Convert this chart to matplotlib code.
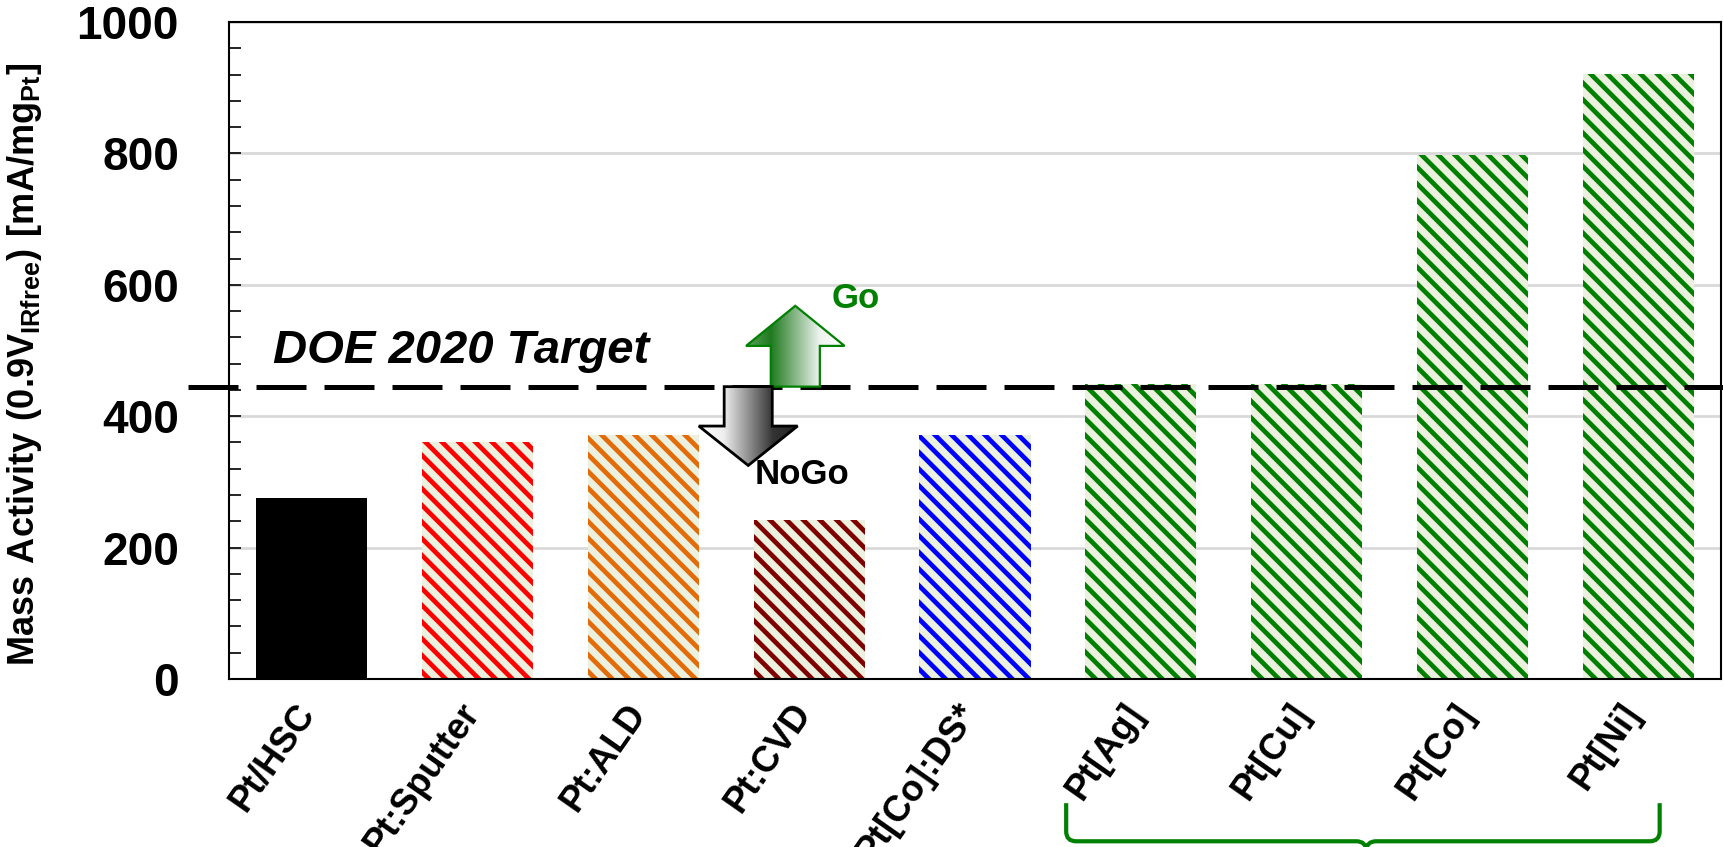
import numpy as np
import matplotlib
matplotlib.use('Agg')
import matplotlib.pyplot as plt
from matplotlib.patches import Polygon, PathPatch
from matplotlib.path import Path
from matplotlib.colors import LinearSegmentedColormap
from matplotlib.transforms import ScaledTranslation
from matplotlib.ticker import MultipleLocator

catalysts = ['Pt/HSC', 'Pt:Sputter', 'Pt:ALD', 'Pt:CVD', 'Pt[Co]:DS*',
             'Pt[Ag]', 'Pt[Cu]', 'Pt[Co]', 'Pt[Ni]']
mass_activity = [276, 361, 371, 242, 371, 449, 449, 797, 921]
bar_colors = ['#000000', '#ff0000', '#e36c09', '#7f0000', '#0000ff',
              '#008000', '#008000', '#008000', '#008000']
doe_target = 445

plt.rcParams['font.family'] = ['Liberation Sans', 'DejaVu Sans']
plt.rcParams['font.weight'] = 'bold'
plt.rcParams['hatch.linewidth'] = 3.4
plt.rcParams['mathtext.fontset'] = 'custom'
plt.rcParams['mathtext.rm'] = 'Liberation Sans:bold'
plt.rcParams['mathtext.bf'] = 'Liberation Sans:bold'

fig = plt.figure(figsize=(17.24, 8.47), dpi=100)
ax = fig.add_axes([229 / 1724, 1 - 679 / 847, 1492 / 1724, 657 / 847])

x = np.arange(len(catalysts))
for i, (v, c) in enumerate(zip(mass_activity, bar_colors)):
    if i == 0:
        ax.bar(i, v, width=0.67, color=c, zorder=2)
    else:
        ax.bar(i, v, width=0.67, facecolor='#ebf1de', edgecolor=c,
               hatch='\\\\', linewidth=0, zorder=2)

# DOE target line
ax.plot([-0.75, 8.6], [doe_target, doe_target], color='black', lw=3.6,
        dashes=(10, 3.6), clip_on=False, zorder=3)
ax.text(-0.235, 481, 'DOE 2020 Target', style='italic', fontsize=34,
        ha='left', va='baseline')


def gradient_arrow(pts, stops, edge, lw):
    poly = Polygon(pts, closed=True, facecolor='none', edgecolor=edge,
                   lw=lw, zorder=6, clip_on=False)
    ax.add_patch(poly)
    xs, ys = zip(*pts)
    cmap = LinearSegmentedColormap.from_list('g', stops)
    grad = np.linspace(0, 1, 256).reshape(1, -1)
    im = ax.imshow(grad, cmap=cmap, extent=(min(xs), max(xs), min(ys), max(ys)),
                   aspect='auto', zorder=5, interpolation='bilinear')
    im.set_clip_path(poly)


# Go arrow (up)
cx, sw, hw = 2.916, 0.148, 0.297
gradient_arrow([(cx - sw, doe_target), (cx - sw, 507), (cx - hw, 507), (cx, 568),
                (cx + hw, 507), (cx + sw, 507), (cx + sw, doe_target)],
               [(0, '#5aa35a'), (0.25, '#1f7a1f'), (0.75, '#f0f4f0'), (1, '#ffffff')],
               '#008000', 1.6)
# NoGo arrow (down)
cx, sw, hw = 2.632, 0.145, 0.298
gradient_arrow([(cx - sw, doe_target), (cx - sw, 385), (cx - hw, 385), (cx, 325),
                (cx + hw, 385), (cx + sw, 385), (cx + sw, doe_target)],
               [(0, '#ffffff'), (0.25, '#eeeeee'), (0.75, '#333333'), (1, '#222222')],
               'black', 2.0)
ax.text(3.28, 565, 'Go', color='#008000', fontsize=25, ha='center', va='baseline')
ax.text(2.956, 297, 'NoGo', color='black', fontsize=25, ha='center', va='baseline')

# brace under the alloy group
bl, br, bc = 4.55, 8.13, 6.36
ytop, yh, ytip = -189, -247, -262
rx, ry = 0.06, 15
verts = [(bl, ytop), (bl, yh + ry), (bl, yh), (bl + rx, yh), (bc - rx, yh),
         (bc, yh), (bc, ytip), (bc, yh), (bc + rx, yh), (br - rx, yh),
         (br, yh), (br, yh + ry), (br, ytop)]
codes = [Path.MOVETO, Path.LINETO, Path.CURVE3, Path.CURVE3, Path.LINETO,
         Path.CURVE3, Path.CURVE3, Path.CURVE3, Path.CURVE3, Path.LINETO,
         Path.CURVE3, Path.CURVE3, Path.LINETO]
ax.add_patch(PathPatch(Path(verts, codes), fill=False, edgecolor='#008000',
                       lw=3, clip_on=False))

ax.set_xlim(-0.5, 8.5)
ax.set_ylim(0, 1000)
ax.yaxis.set_major_locator(MultipleLocator(200))
ax.yaxis.set_minor_locator(MultipleLocator(40))
ax.tick_params(axis='y', which='both', direction='in', length=8.5, width=1.2,
               labelsize=33, pad=36)
ax.tick_params(axis='x', length=0, pad=13)
ax.set_xticks(x)
ax.set_xticklabels(catalysts, rotation=55, ha='right', va='top',
                   rotation_mode='anchor', fontsize=26)
for lab in ax.get_xticklabels():
    lab.set_transform(lab.get_transform() + ScaledTranslation(-0.19, 0, fig.dpi_scale_trans))

ax.yaxis.grid(True, color='#d9d9d9', lw=2)
ax.set_axisbelow(True)
for s in ax.spines.values():
    s.set_linewidth(1.5)

ax.set_ylabel(r'$\mathbf{Mass\ Activity\ (0.9V_{IRfree})\ [mA/mg_{Pt}]}$', fontsize=26)
ax.yaxis.set_label_coords(-0.124, 0.479)

fig.savefig('out.png', dpi=100)
